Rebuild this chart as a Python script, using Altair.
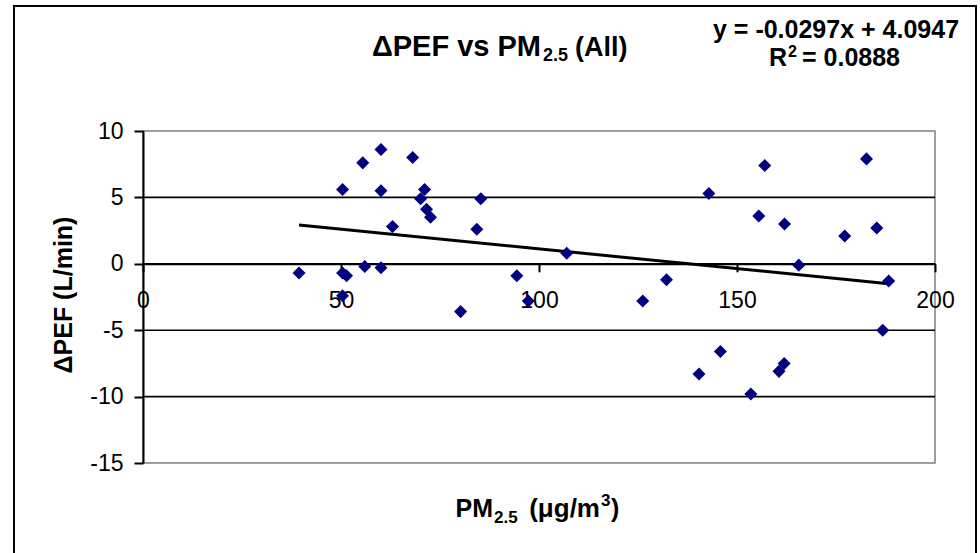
import altair as alt
import pandas as pd

# PM2.5 exposure (µg/m3) and change in peak expiratory flow (L/min)
pm25 = [39.4, 50.4, 55.5, 60.1, 68.1, 60.1, 71.1, 70.1, 71.6, 72.6,
        63.0, 85.3, 84.3, 56.0, 60.1, 50.4, 51.4, 94.4, 50.4, 80.2,
        97.3, 107.0, 142.9, 157.0, 182.7, 155.5, 162.0, 177.2, 185.3, 165.6,
        132.2, 188.3, 126.2, 186.8, 145.8, 140.4, 161.9, 160.6, 153.5]
dpef = [-0.7, 5.6, 7.6, 8.6, 8.0, 5.5, 5.6, 4.9, 4.1, 3.5,
        2.8, 4.9, 2.6, -0.2, -0.3, -0.7, -0.9, -0.9, -2.4, -3.6,
        -2.8, 0.8, 5.3, 7.4, 7.9, 3.6, 3.0, 2.1, 2.7, -0.1,
        -1.2, -1.3, -2.8, -5.0, -6.6, -8.3, -7.5, -8.1, -9.8]

# linear trend line as reported in the equation label
slope = -0.0297
intercept = 4.0947
r_squared = 0.0888

x_ticks = [0, 50, 100, 150, 200]
y_ticks = [-15, -10, -5, 0, 5, 10]
grid_values = [5, 0, -5, -10]

FONT = "Liberation Sans"
W, H = 792, 332

points = pd.DataFrame({"pm": pm25, "dpef": dpef})
x_lo, x_hi = min(pm25), max(pm25)
trend = pd.DataFrame({"pm": [x_lo, x_hi],
                      "dpef": [slope * x_lo + intercept, slope * x_hi + intercept]})
grid = pd.DataFrame({"g": grid_values})

x_scale = alt.Scale(domain=[0, 200], nice=False, zero=False)
y_scale = alt.Scale(domain=[-15, 10], nice=False, zero=False)

# plain hyphen-minus in tick labels
plain_number = "'' + datum.value"

x_axis = alt.Axis(values=x_ticks, title=None, grid=False, orient="bottom",
                  offset=-(H * 15 / 25), domainColor="black", domainWidth=2,
                  tickColor="black", tickWidth=2, tickSize=8,
                  labelFont=FONT, labelFontSize=23, labelColor="black",
                  labelPadding=18, labelFlush=False, labelOverlap=False,
                  labelExpr=plain_number)
y_axis = alt.Axis(values=y_ticks, title=None, grid=False, zindex=1,
                  domainColor="black", domainWidth=2,
                  tickColor="black", tickWidth=2, tickSize=9,
                  labelFont=FONT, labelFontSize=23, labelColor="black",
                  labelPadding=11, labelFlush=False, labelOverlap=False,
                  labelExpr=plain_number)

frame = alt.Chart(pd.DataFrame({"k": [0]})).mark_rect(
    fill=None, stroke="black", strokeWidth=2
).encode(x=alt.value(-129), x2=alt.value(833), y=alt.value(-125), y2=alt.value(432))

gridlines = alt.Chart(grid).mark_rule(color="black", strokeWidth=1.6).encode(
    y=alt.Y("g:Q", scale=y_scale, axis=y_axis),
    x=alt.datum(0, scale=x_scale),
    x2=alt.datum(200),
)

trend_line = alt.Chart(trend).mark_line(color="black", strokeWidth=3).encode(
    x=alt.X("pm:Q", scale=x_scale, axis=x_axis),
    y=alt.Y("dpef:Q", scale=y_scale),
)

scatter = alt.Chart(points).mark_point(
    shape="diamond", filled=True, color="#000080", size=170, opacity=1
).encode(
    x=alt.X("pm:Q", scale=x_scale),
    y=alt.Y("dpef:Q", scale=y_scale),
)


def label(text, x, y, size, align="left", angle=0, baseline="alphabetic"):
    params = dict(text=text, font=FONT, fontSize=size, fontWeight="bold",
                  color="black", align=align, baseline=baseline)
    if angle:
        params["angle"] = angle
    return alt.Chart(pd.DataFrame({"k": [0]})).mark_text(**params).encode(
        x=alt.value(x), y=alt.value(y))


texts = [
    # chart title: ΔPEF vs PM2.5 (All)
    label("ΔPEF vs PM", 398, -75, 29, align="right"),
    label("2.5", 400, -70, 18),
    label("(All)", 432, -75, 27),
    # regression equation
    label(f"y = {slope}x + {intercept}", 693, -93, 25, align="center"),
    label("R", 644, -65, 25, align="right"),
    label("2", 645, -74, 16),
    label(f"= {r_squared}", 659, -65, 25),
    # x axis title: PM2.5 (µg/m3)
    label("PM", 350, 386, 25, align="right"),
    label("2.5", 351, 392, 17),
    label("(μg/m", 457, 386, 26, align="right"),
    label("3", 458, 375, 17),
    label(")", 468, 386, 25),
    # y axis title
    label("ΔPEF (L/min)", -79, 164, 25, align="center", angle=270, baseline="middle"),
]

chart = alt.layer(frame, gridlines, trend_line, scatter, *texts).properties(
    width=W, height=H,
    autosize=alt.AutoSizeParams(type="none"),
    padding={"left": 143, "top": 131, "right": 45, "bottom": 90},
    background="white",
).configure_view(stroke="#808080", strokeWidth=1.5)

chart.save("out.html", embed_options={"renderer": "svg", "actions": False})
